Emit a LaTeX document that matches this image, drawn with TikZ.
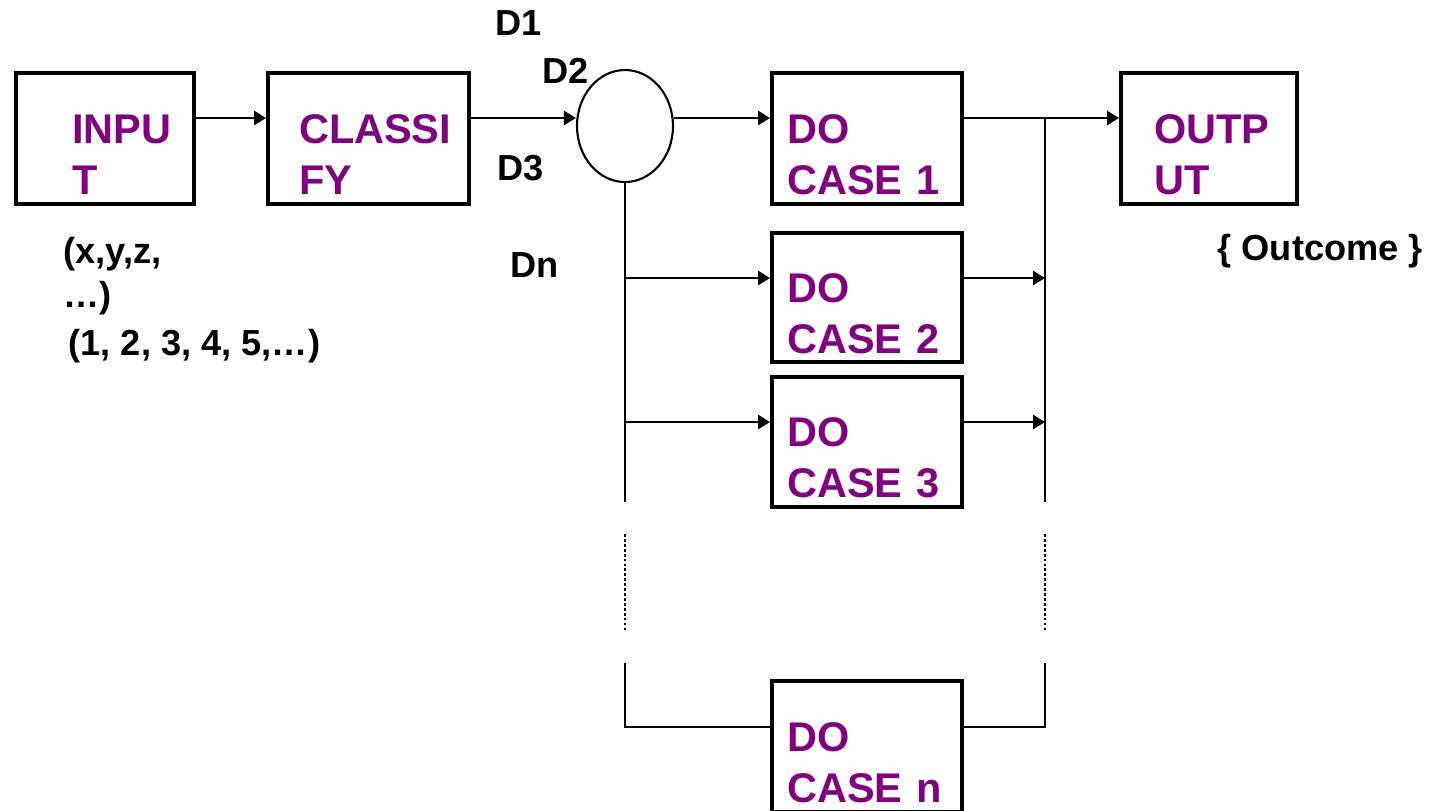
\documentclass[tikz,border=0pt]{standalone}
\usepackage{fontspec}
\setmainfont{Liberation Sans}
\usetikzlibrary{positioning, arrows.meta, shapes.geometric}
\definecolor{casepurple}{HTML}{800080}

\begin{document}
\begin{tikzpicture}[
    blk/.style 2 args={draw, very thick, text width=#1, inner xsep=0pt,
      minimum height=1.31cm, anchor=north west, align=left,
      text height=0.5cm, text depth=0.41cm, text=casepurple,
      font=\fontsize{11.8}{14.5}\selectfont\bfseries,
      execute at begin node={\leftskip=#2}},
    lbl/.style={font=\fontsize{10.3}{12.5}\selectfont\bfseries,
      anchor=base west, inner sep=0pt, align=left},
    bus/.style={semithick},
    gap/.style={semithick, dash pattern=on 0.8pt off 0.6pt},
    >={Triangle[length=0.12cm, width=0.14cm]},
  ]
  \useasboundingbox (0,0) rectangle (14.29,-8.10);

  % main row
  \node[blk={1.78cm}{0.56cm}] (inp) at (0.14,-0.71) {INPU\\T};
  \node[blk={2.01cm}{0.31cm}] (cls) at (2.66,-0.71) {CLASSI\\FY};
  \node[draw, semithick, ellipse, minimum width=0.96cm,
        minimum height=1.12cm, inner sep=0pt] (sel) at (6.25,-1.26) {};
  \node[blk={1.90cm}{0.15cm}] (c1) at (7.70,-0.71) {DO\\CASE 1};
  \node[blk={1.76cm}{0.33cm}] (out) at (11.19,-0.71) {OUTP\\UT};

  % the other cases
  \node[blk={1.90cm}{0.15cm}, minimum height=1.29cm] (c2) at (7.70,-2.31) {DO\\CASE 2};
  \node[blk={1.90cm}{0.15cm}, minimum height=1.30cm] (c3) at (7.70,-3.75) {DO\\CASE 3};
  \node[blk={1.90cm}{0.15cm}] (cn) at (7.70,-6.79) {DO\\CASE n};

  % labels
  \node[lbl] (d1) at (4.95,-0.35) {D1};
  \node[lbl] (d2) at (5.42,-0.83) {D2};
  \node[lbl] (d3) at (4.97,-1.80) {D3};
  \node[lbl] (dn) at (5.10,-2.77) {Dn};
  \node[lbl] (vars) at (0.63,-3.07) {(x,y,z,\\…)};
  \node[lbl] (vals) at (0.68,-3.55) {(1, 2, 3, 4, 5,…)};
  \node[lbl] (res) at (12.17,-2.60) {\{ Outcome \}};

  % bus points
  \coordinate (row) at (0,-1.18);
  \coordinate (j2) at (6.25,-2.78);
  \coordinate (j3) at (6.25,-4.22);
  \coordinate (k2) at (10.45,-2.78);
  \coordinate (k3) at (10.45,-4.22);
  \coordinate (lb1) at (6.25,-5.02);
  \coordinate (lb2) at (6.25,-5.34);
  \coordinate (lb3) at (6.25,-6.30);
  \coordinate (lb4) at (6.25,-6.63);
  \coordinate (lb5) at (6.25,-7.27);
  \coordinate (rb0) at (10.45,-1.18);
  \coordinate (rb1) at (10.45,-5.02);
  \coordinate (rb2) at (10.45,-5.34);
  \coordinate (rb3) at (10.45,-6.30);
  \coordinate (rb4) at (10.45,-6.63);
  \coordinate (rb5) at (10.45,-7.27);

  \draw[->, thick] (inp.east |- row) -- (cls.west |- row);
  \draw[->, thick] (cls.east |- row) -- (sel.west |- row);
  \draw[->, thick] (sel.east |- row) -- (c1.west |- row);
  \draw[->, thick] (c1.east |- row) -- (out.west |- row);

  \draw[bus] (sel.south) -- (lb1);
  \draw[gap] (lb2) -- (lb3);
  \draw[bus] (lb4) -- (lb5) -- (cn.west |- lb5);
  \draw[->, thick] (j2) -- (c2.west |- j2);
  \draw[->, thick] (j3) -- (c3.west |- j3);

  \draw[bus] (rb0) -- (rb1);
  \draw[gap] (rb2) -- (rb3);
  \draw[bus] (rb4) -- (rb5) -- (cn.east |- rb5);
  \draw[->, thick] (c2.east |- k2) -- (k2);
  \draw[->, thick] (c3.east |- k3) -- (k3);
\end{tikzpicture}
\end{document}
